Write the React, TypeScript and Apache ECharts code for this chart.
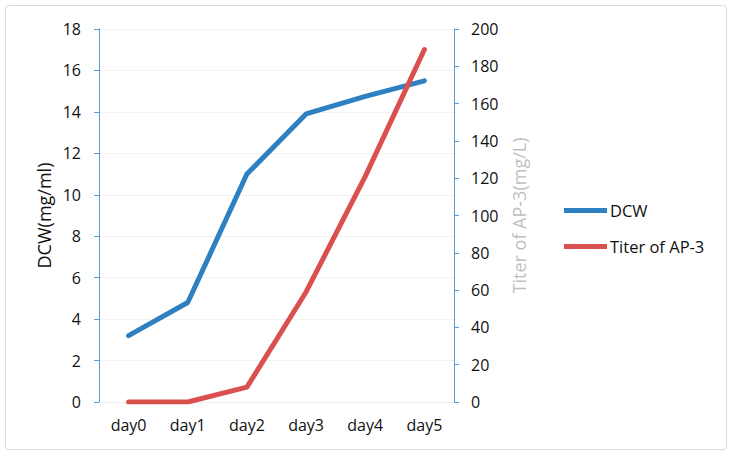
import React, { useEffect, useRef } from "react";
import * as echarts from "echarts";

const categories = ["day0", "day1", "day2", "day3", "day4", "day5"];
const dcw = [3.2, 4.8, 11.0, 13.9, 14.75, 15.5];
const titer = [0, 0, 8, 59, 121, 189];

const FONT = "'Open Sans', sans-serif";

export default function App() {
  const ref = useRef<HTMLDivElement>(null);
  useEffect(() => {
    if (!ref.current) return;
    const chart = echarts.init(ref.current, undefined, { renderer: "svg" });
    chart.setOption({
      animation: false,
      backgroundColor: "#ffffff",
      textStyle: { fontFamily: FONT },
      graphic: [
        {
          type: "rect",
          shape: { x: 5.5, y: 5.5, width: 721, height: 444, r: 3 },
          style: { fill: "none", stroke: "#d9d9d9", lineWidth: 1 },
          silent: true,
        },
      ],
      grid: { left: 99, right: 279, top: 29, bottom: 55, containLabel: false },
      legend: {
        orient: "vertical",
        left: 564,
        top: 202,
        padding: 0,
        itemWidth: 43,
        itemHeight: 16,
        itemGap: 19,
        icon: "path://M0,0 L43,0 L43,5 L0,5 Z",
        textStyle: { fontFamily: FONT, fontSize: 16.5, color: "#111111", padding: [0, 0, 0, -2] },
        data: ["DCW", "Titer of AP-3"],
      },
      xAxis: {
        type: "category",
        data: categories,
        boundaryGap: true,
        axisLine: { show: true, lineStyle: { color: "#eeeeee", width: 1 } },
        axisTick: { show: false },
        axisLabel: { fontFamily: FONT, fontSize: 16, color: "#111111", margin: 15 },
      },
      yAxis: [
        {
          type: "value",
          min: 0,
          max: 18,
          interval: 2,
          position: "left",
          name: "DCW(mg/ml)",
          nameLocation: "middle",
          nameGap: 46,
          nameRotate: 90,
          nameTextStyle: { fontFamily: FONT, fontSize: 18, color: "#111111" },
          axisLine: { show: true, lineStyle: { color: "#5B9BD5", width: 1 } },
          axisTick: { show: true, length: 5, lineStyle: { color: "#5B9BD5" } },
          axisLabel: { fontFamily: FONT, fontSize: 16, color: "#111111", margin: 18 },
          splitLine: { show: true, lineStyle: { color: "#f2f2f2", width: 1 } },
        },
        {
          type: "value",
          min: 0,
          max: 200,
          interval: 20,
          position: "right",
          name: "Titer of AP-3(mg/L)",
          nameLocation: "middle",
          nameGap: 56,
          nameRotate: 90,
          nameTextStyle: { fontFamily: FONT, fontSize: 18, color: "#bfbfbf" },
          axisLine: { show: true, lineStyle: { color: "#5B9BD5", width: 1 } },
          axisTick: { show: true, length: 5, lineStyle: { color: "#5B9BD5" } },
          axisLabel: { fontFamily: FONT, fontSize: 16, color: "#111111", margin: 17 },
          splitLine: { show: false },
        },
      ],
      series: [
        {
          name: "DCW",
          type: "line",
          yAxisIndex: 0,
          data: dcw,
          symbol: "none",
          lineStyle: { color: "#2E80C1", width: 5, cap: "round" },
          itemStyle: { color: "#2E80C1" },
        },
        {
          name: "Titer of AP-3",
          type: "line",
          yAxisIndex: 1,
          data: titer,
          symbol: "none",
          lineStyle: { color: "#D9504E", width: 5, cap: "round" },
          itemStyle: { color: "#D9504E" },
        },
      ],
    });
    return () => chart.dispose();
  }, []);
  return (
    <div
      ref={ref}
      style={{ position: "fixed", left: 0, top: 0, width: 733, height: 457 }}
    />
  );
}
